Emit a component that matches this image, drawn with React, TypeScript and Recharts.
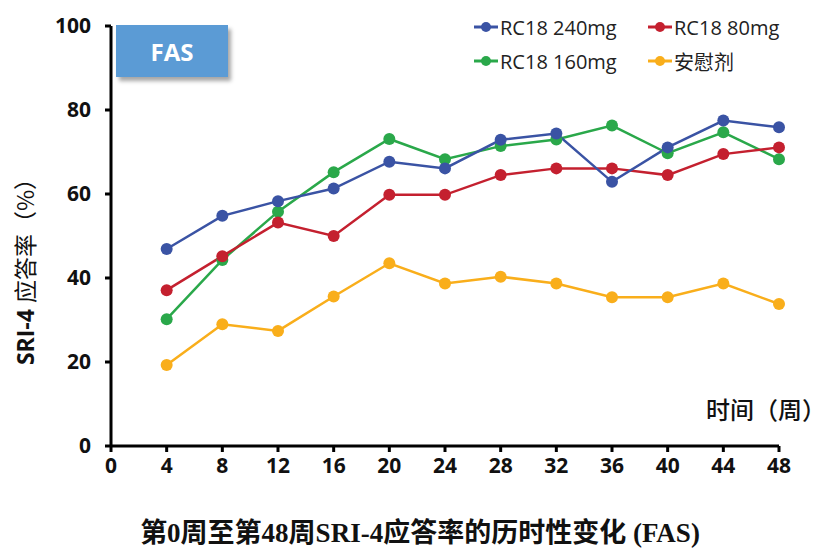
import React from "react";
import { LineChart, Line, XAxis, YAxis } from "recharts";

// SRI-4 应答率随时间变化 (FAS)
const weeks = [4, 8, 12, 16, 20, 24, 28, 32, 36, 40, 44, 48];
const rc240 = [46.9, 54.8, 58.3, 61.3, 67.7, 66.1, 72.9, 74.4, 62.9, 71.1, 77.5, 75.9];
const rc80 = [37.1, 45.2, 53.2, 50.0, 59.8, 59.8, 64.5, 66.1, 66.1, 64.5, 69.5, 71.1];
const rc160 = [30.2, 44.3, 55.8, 65.2, 73.1, 68.3, 71.4, 73.0, 76.3, 69.7, 74.7, 68.3];
const placebo = [19.3, 29.0, 27.4, 35.6, 43.5, 38.7, 40.3, 38.7, 35.4, 35.4, 38.7, 33.8];

const xTicks = [0, 4, 8, 12, 16, 20, 24, 28, 32, 36, 40, 44, 48];
const yTicks = [0, 20, 40, 60, 80, 100];

const BLUE = "#3a53a4";
const RED = "#c4202f";
const GREEN = "#2aa84a";
const ORANGE = "#f9ae1b";

const SERIES = [
  { key: "rc160", name: "RC18 160mg", color: GREEN },
  { key: "rc80", name: "RC18 80mg", color: RED },
  { key: "rc240", name: "RC18 240mg", color: BLUE },
  { key: "placebo", name: "安慰剂", color: ORANGE },
];
// 图例显示顺序: 左列 240/160, 右列 80/安慰剂
const LEGEND_ORDER = ["rc240", "rc80", "rc160", "placebo"];

const data = weeks.map((w, i) => ({
  week: w,
  rc240: rc240[i],
  rc80: rc80[i],
  rc160: rc160[i],
  placebo: placebo[i],
}));

const SANS = "'Open Sans', 'Noto Sans CJK SC', sans-serif";
const SERIF = "'Liberation Serif', 'Noto Sans CJK SC', serif";

function LegendBox() {
  return (
    <div
      style={{
        position: "absolute",
        left: 474,
        top: 14,
        display: "grid",
        gridTemplateColumns: "174px 160px",
        rowGap: 8,
        fontFamily: SANS,
        fontSize: 20,
        color: "#222",
      }}
    >
      {LEGEND_ORDER.map((k) => {
        const s = SERIES.find((x) => x.key === k)!;
        return (
          <div key={k} style={{ display: "flex", alignItems: "center", height: 26 }}>
            <svg width={24} height={12} style={{ marginRight: 2 }}>
              <line x1={0} y1={6} x2={24} y2={6} stroke={s.color} strokeWidth={3} />
              <circle cx={12} cy={6} r={5} fill={s.color} />
            </svg>
            <span>{s.name}</span>
          </div>
        );
      })}
    </div>
  );
}

export default function App() {
  return (
    <div
      style={{
        position: "absolute",
        left: 0,
        top: 0,
        width: 827,
        height: 549,
        background: "#fff",
        overflow: "hidden",
      }}
    >
      <LineChart
        width={827}
        height={549}
        data={data}
        margin={{ top: 26, right: 48, left: 51, bottom: 73 }}
      >
        <XAxis
          type="number"
          dataKey="week"
          domain={[0, 48]}
          ticks={xTicks}
          height={30}
          axisLine={{ stroke: "#000", strokeWidth: 3 }}
          tickLine={{ stroke: "#000", strokeWidth: 3 }}
          tickSize={6}
          tickMargin={6}
          tick={{ fill: "#111", fontSize: 21, fontWeight: 700, fontFamily: SANS }}
        />
        <YAxis
          type="number"
          domain={[0, 100]}
          ticks={yTicks}
          width={60}
          axisLine={{ stroke: "#000", strokeWidth: 3 }}
          tickLine={{ stroke: "#000", strokeWidth: 3 }}
          tickSize={6}
          tickMargin={14}
          tick={{ fill: "#111", fontSize: 21, fontWeight: 700, fontFamily: SANS }}
        />
        {SERIES.map((s) => (
          <Line
            key={s.key}
            dataKey={s.key}
            name={s.name}
            stroke={s.color}
            strokeWidth={2.5}
            dot={{ r: 6, fill: s.color, stroke: s.color, strokeWidth: 0 }}
            isAnimationActive={false}
          />
        ))}
      </LineChart>

      <LegendBox />

      {/* FAS 标签框 */}
      <div
        style={{
          position: "absolute",
          left: 116,
          top: 25,
          width: 112,
          height: 52,
          background: "#5b9bd5",
          boxShadow: "3px 4px 4px rgba(0,0,0,0.35)",
          color: "#fff",
          fontFamily: SANS,
          fontWeight: 700,
          fontSize: 24,
          display: "flex",
          alignItems: "center",
          justifyContent: "center",
        }}
      >
        FAS
      </div>

      <svg
        width={827}
        height={549}
        style={{ position: "absolute", left: 0, top: 0, pointerEvents: "none" }}
      >
        <text
          transform="translate(34,266) rotate(-90)"
          textAnchor="middle"
          fontSize={23}
          fill="#111"
        >
          <tspan fontFamily={SANS} fontWeight={700}>SRI-4 </tspan>
          <tspan fontFamily="'Noto Sans CJK SC'" fontWeight={400}>应答率（%）</tspan>
        </text>
        <text
          x={826}
          y={419}
          textAnchor="end"
          fontSize={24}
          fontFamily="'Noto Sans CJK SC'"
          fontWeight={500}
          fill="#111"
        >
          时间（周）
        </text>
        <text
          x={420}
          y={542}
          textAnchor="middle"
          fontSize={27}
          fontFamily={SERIF}
          fontWeight={700}
          fill="#111"
        >
          第0周至第48周SRI-4应答率的历时性变化 (FAS)
        </text>
      </svg>
    </div>
  );
}
